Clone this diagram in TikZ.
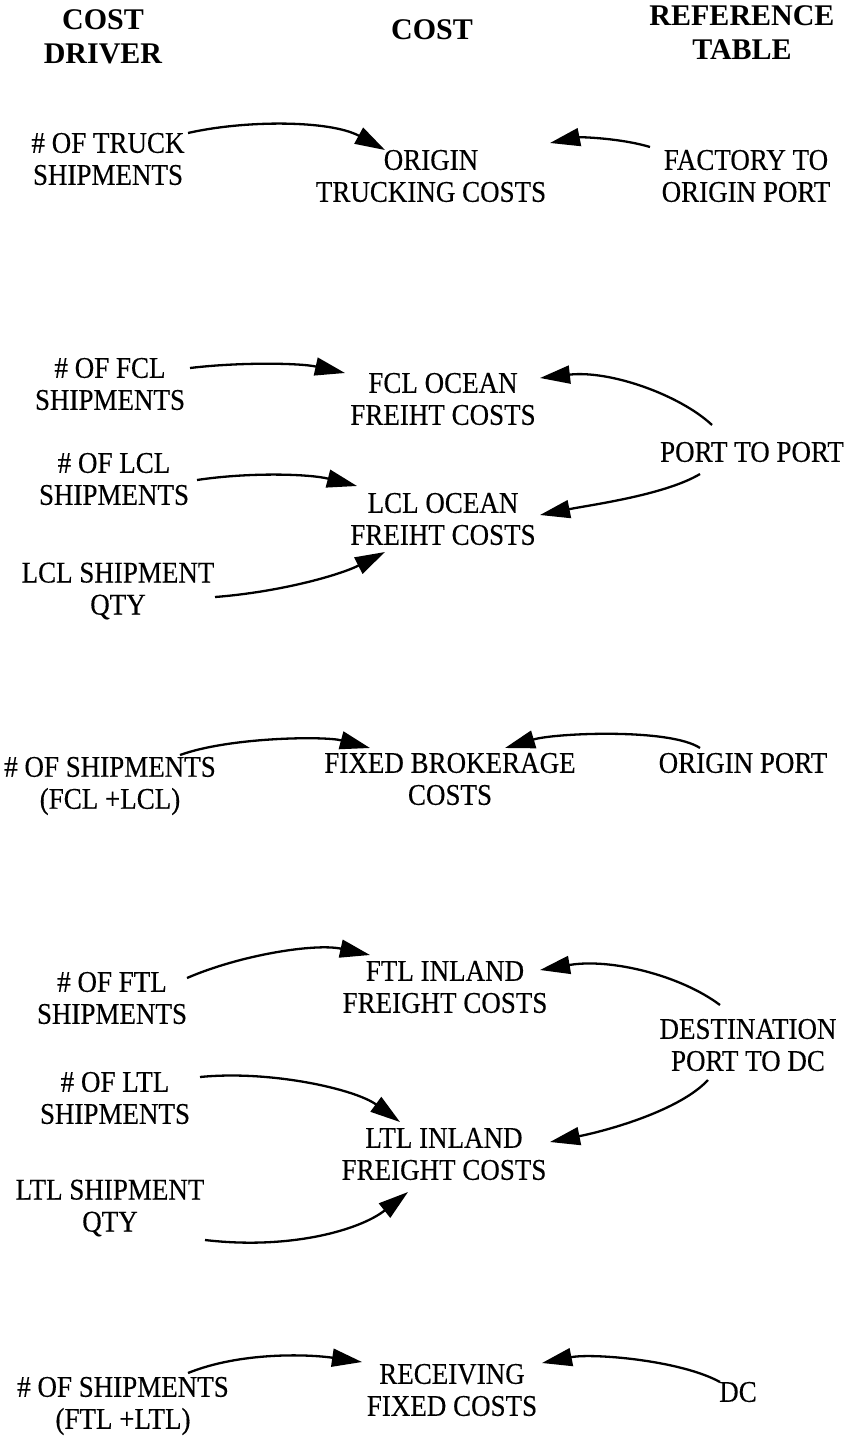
\documentclass[tikz,border=0pt]{standalone}
\usepackage{fontspec}
\setmainfont{Liberation Serif}
\newfontfamily\bodyfont{Liberation Serif}[FakeStretch=0.9,FakeBold=0.3]
\usetikzlibrary{arrows.meta}
\tikzset{
  lbl/.style={align=center, inner sep=0pt, font=\bodyfont\fontsize{30}{32}\selectfont},
  hdr/.style={align=center, inner sep=0pt, font=\bfseries\fontsize{30}{34}\selectfont},
  link/.style={line width=2.3pt, -{Triangle[length=30pt,width=18pt]}}
}
\begin{document}
\begin{tikzpicture}[x=1pt,y=-1pt]
\fill[white] (0,0) rectangle (843,1437);
\useasboundingbox (0,0) rectangle (843,1437);
% headers
\node[hdr] (h1) at (103,37) {COST\\DRIVER};
\node[hdr] (h2) at (432,30) {COST};
\node[hdr] (h3) at (742,33) {REFERENCE\\TABLE};
% nodes
\node[lbl] (n1) at (108,159) {\# OF TRUCK\\SHIPMENTS};
\node[lbl] (c1) at (431,176) {ORIGIN\\TRUCKING COSTS};
\node[lbl] (r1) at (746,176) {FACTORY TO\\ORIGIN PORT};
\node[lbl] (n2) at (110,384) {\# OF FCL\\SHIPMENTS};
\node[lbl] (c2) at (443,399) {FCL OCEAN\\FREIHT COSTS};
\node[lbl] (r2) at (752,452) {PORT TO PORT};
\node[lbl] (n3) at (114,479) {\# OF LCL\\SHIPMENTS};
\node[lbl] (c3) at (443,519) {LCL OCEAN\\FREIHT COSTS};
\node[lbl] (n4) at (118,591) {LCL SHIPMENT\\QTY};
\node[lbl] (n5) at (110,786) {\# OF SHIPMENTS\\(FCL +LCL)};
\node[lbl] (c5) at (450,779) {FIXED BROKERAGE\\COSTS};
\node[lbl] (r5) at (743,763) {ORIGIN PORT};
\node[lbl] (n6) at (112,998) {\# OF FTL\\SHIPMENTS};
\node[lbl] (c6) at (445,987) {FTL INLAND\\FREIGHT COSTS};
\node[lbl] (r6) at (748,1045) {DESTINATION\\PORT TO DC};
\node[lbl] (n7) at (115,1098) {\# OF LTL\\SHIPMENTS};
\node[lbl] (c7) at (444,1154) {LTL INLAND\\FREIGHT COSTS};
\node[lbl] (n8) at (110,1208) {LTL SHIPMENT\\QTY};
\node[lbl] (n9) at (123,1406) {\# OF SHIPMENTS\\(FTL +LTL)};
\node[lbl] (c9) at (452,1390) {RECEIVING\\FIXED COSTS};
\node[lbl] (r9) at (738,1392) {DC};
% connectors
\draw[link] ([shift={(80,-26)}]n1.center) .. controls +(57,-13) and +(-55,-30) .. ([shift={(-46,-26)}]c1.center);
\draw[link] ([shift={(-96,-29)}]r1.center) .. controls +(-30,-9) and +(30,-6) .. ([shift={(119,-33)}]c1.center);
\draw[link] ([shift={(80,-16)}]n2.center) .. controls +(50,-6) and +(-45,-10) .. ([shift={(-98,-26)}]c2.center);
\draw[link] ([shift={(-40,-27)}]r2.center) .. controls +(-32,-30) and +(70,-8) .. ([shift={(97,-21)}]c2.center);
\draw[link] ([shift={(-52,22)}]r2.center) .. controls +(-35,21) and +(50,-10) .. ([shift={(97,-4)}]c3.center);
\draw[link] ([shift={(83,1)}]n3.center) .. controls +(53,-8) and +(-47,-12) .. ([shift={(-86,-33)}]c3.center);
\draw[link] ([shift={(97,6)}]n4.center) .. controls +(65,-5) and +(-45,23) .. ([shift={(-58,33)}]c3.center);
\draw[link] ([shift={(70,-31)}]n5.center) .. controls +(50,-18) and +(-45,-12) .. ([shift={(-80,-31)}]c5.center);
\draw[link] ([shift={(-43,-15)}]r5.center) .. controls +(-30,-20) and +(50,-15) .. ([shift={(55,-31)}]c5.center);
\draw[link] ([shift={(75,-20)}]n6.center) .. controls +(53,-23) and +(-55,-12) .. ([shift={(-75,-32)}]c6.center);
\draw[link] ([shift={(-28,-40)}]r6.center) .. controls +(-40,-30) and +(70,-12) .. ([shift={(95,-17)}]c6.center);
\draw[link] ([shift={(-40,35)}]r6.center) .. controls +(-28,30) and +(60,-12) .. ([shift={(106,-12)}]c7.center);
\draw[link] ([shift={(85,-21)}]n7.center) .. controls +(70,-7) and +(-45,-33) .. ([shift={(-44,-32)}]c7.center);
\draw[link] ([shift={(95,32)}]n8.center) .. controls +(85,10) and +(-48,38) .. ([shift={(-36,38)}]c7.center);
\draw[link] ([shift={(65,-33)}]n9.center) .. controls +(52,-21) and +(-55,-8) .. ([shift={(-90,-28)}]c9.center);
\draw[link] ([shift={(-18,-10)}]r9.center) .. controls +(-40,-22) and +(50,-10) .. ([shift={(90,-27)}]c9.center);
\end{tikzpicture}
\end{document}
